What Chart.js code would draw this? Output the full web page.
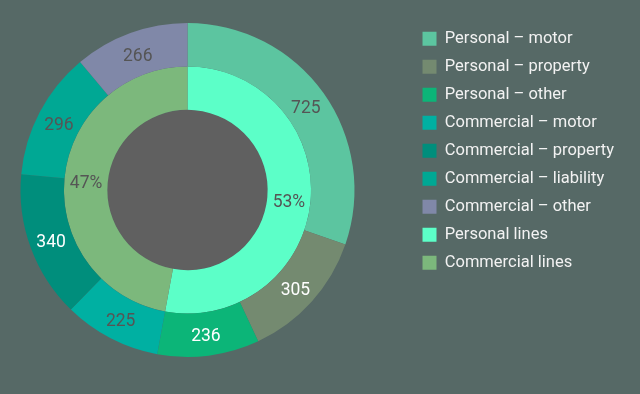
<!DOCTYPE html>
<html>
<head>
<meta charset="utf-8">
<script src="https://cdn.jsdelivr.net/npm/chart.js@4/dist/chart.umd.min.js"></script>
<style>
  html, body { margin: 0; padding: 0; background: #566966; }
  .chart-wrap { width: 640px; height: 394px; }
</style>
</head>
<body>
<div class="chart-wrap"><canvas id="lines-chart"></canvas></div>
<script>
const outerLabels = [
  "Personal – motor",
  "Personal – property",
  "Personal – other",
  "Commercial – motor",
  "Commercial – property",
  "Commercial – liability",
  "Commercial – other",
];
const outerValues = [725, 305, 236, 225, 340, 296, 266];

const innerLabels = ["Personal lines", "Commercial lines"];
const innerValues = [1266, 1127];

const outerColors = ["#5cc5a0", "#748a70", "#0cb578", "#00b0a2", "#008e7c", "#00a894", "#8088a8"];
const innerColors = ["#5cffc8", "#7cb87c"];
const outerTextColors = ["#555", "#fff", "#fff", "#555", "#fff", "#555", "#555"];
const innerTextColors = ["#555", "#555"];

// chart.js won't take a negative padding, so pull the plot area left by hand
const shiftArea = {
  id: "shiftArea",
  afterLayout(chart, args, opts) {
    const area = chart.chartArea;
    area.left -= opts.left;
    area.width = area.right - area.left;
  },
};

// fill the hole in the middle
const holePlugin = {
  id: "hole",
  beforeDatasetsDraw(chart) {
    const meta = chart.getDatasetMeta(chart.data.datasets.length - 1);
    const arc = meta.data[0];
    if (!arc) return;
    const ctx = chart.ctx;
    ctx.save();
    ctx.fillStyle = "#606060";
    ctx.beginPath();
    ctx.arc(arc.x, arc.y, arc.innerRadius, 0, Math.PI * 2);
    ctx.fill();
    ctx.restore();
  },
};

// value labels in the middle of each slice
const sliceLabels = {
  id: "sliceLabels",
  afterDatasetsDraw(chart) {
    const ctx = chart.ctx;
    ctx.save();
    ctx.font = "17.5px Roboto";
    ctx.textAlign = "center";
    ctx.textBaseline = "middle";
    chart.data.datasets.forEach((ds, i) => {
      const meta = chart.getDatasetMeta(i);
      const total = ds.data.reduce((a, b) => a + b, 0);
      meta.data.forEach((arc, j) => {
        const pos = arc.tooltipPosition();
        const v = ds.data[j];
        const text = ds.showPercent ? Math.round((v / total) * 100) + "%" : String(v);
        ctx.fillStyle = ds.textColors[j];
        ctx.fillText(text, pos.x, pos.y + 3);
      });
    });
    ctx.restore();
  },
};

function drawChart() {
  new Chart(document.getElementById("lines-chart"), {
    type: "doughnut",
    data: {
      labels: outerLabels,
      datasets: [
        {
          data: outerValues,
          backgroundColor: outerColors,
          textColors: outerTextColors,
          borderWidth: 0,
        },
        {
          data: innerValues,
          backgroundColor: innerColors,
          textColors: innerTextColors,
          showPercent: true,
          borderWidth: 0,
        },
      ],
    },
    options: {
      responsive: true,
      maintainAspectRatio: false,
      animation: false,
      radius: 167,
      cutout: "48%",
      layout: {
        padding: { left: 0, right: 16, top: 19, bottom: 33 },
      },
      plugins: {
        shiftArea: { left: 36 },
        tooltip: { enabled: false },
        legend: {
          position: "right",
          align: "start",
          labels: {
            boxWidth: 14,
            boxHeight: 14,
            padding: 11.5,
            color: "#f2f2f2",
            font: { family: "Roboto", size: 16.5 },
            generateLabels(chart) {
              const items = [];
              chart.data.datasets.forEach((ds, i) => {
                const names = i === 0 ? outerLabels : innerLabels;
                names.forEach((name, j) => {
                  items.push({
                    text: name,
                    fillStyle: ds.backgroundColor[j],
                    strokeStyle: ds.backgroundColor[j],
                    lineWidth: 0,
                    fontColor: "#f2f2f2",
                    hidden: false,
                    datasetIndex: i,
                    index: j,
                  });
                });
              });
              return items;
            },
          },
          onClick() {},
        },
      },
    },
    plugins: [shiftArea, holePlugin, sliceLabels],
  });
}

window.addEventListener("load", drawChart);
</script>
</body>
</html>
